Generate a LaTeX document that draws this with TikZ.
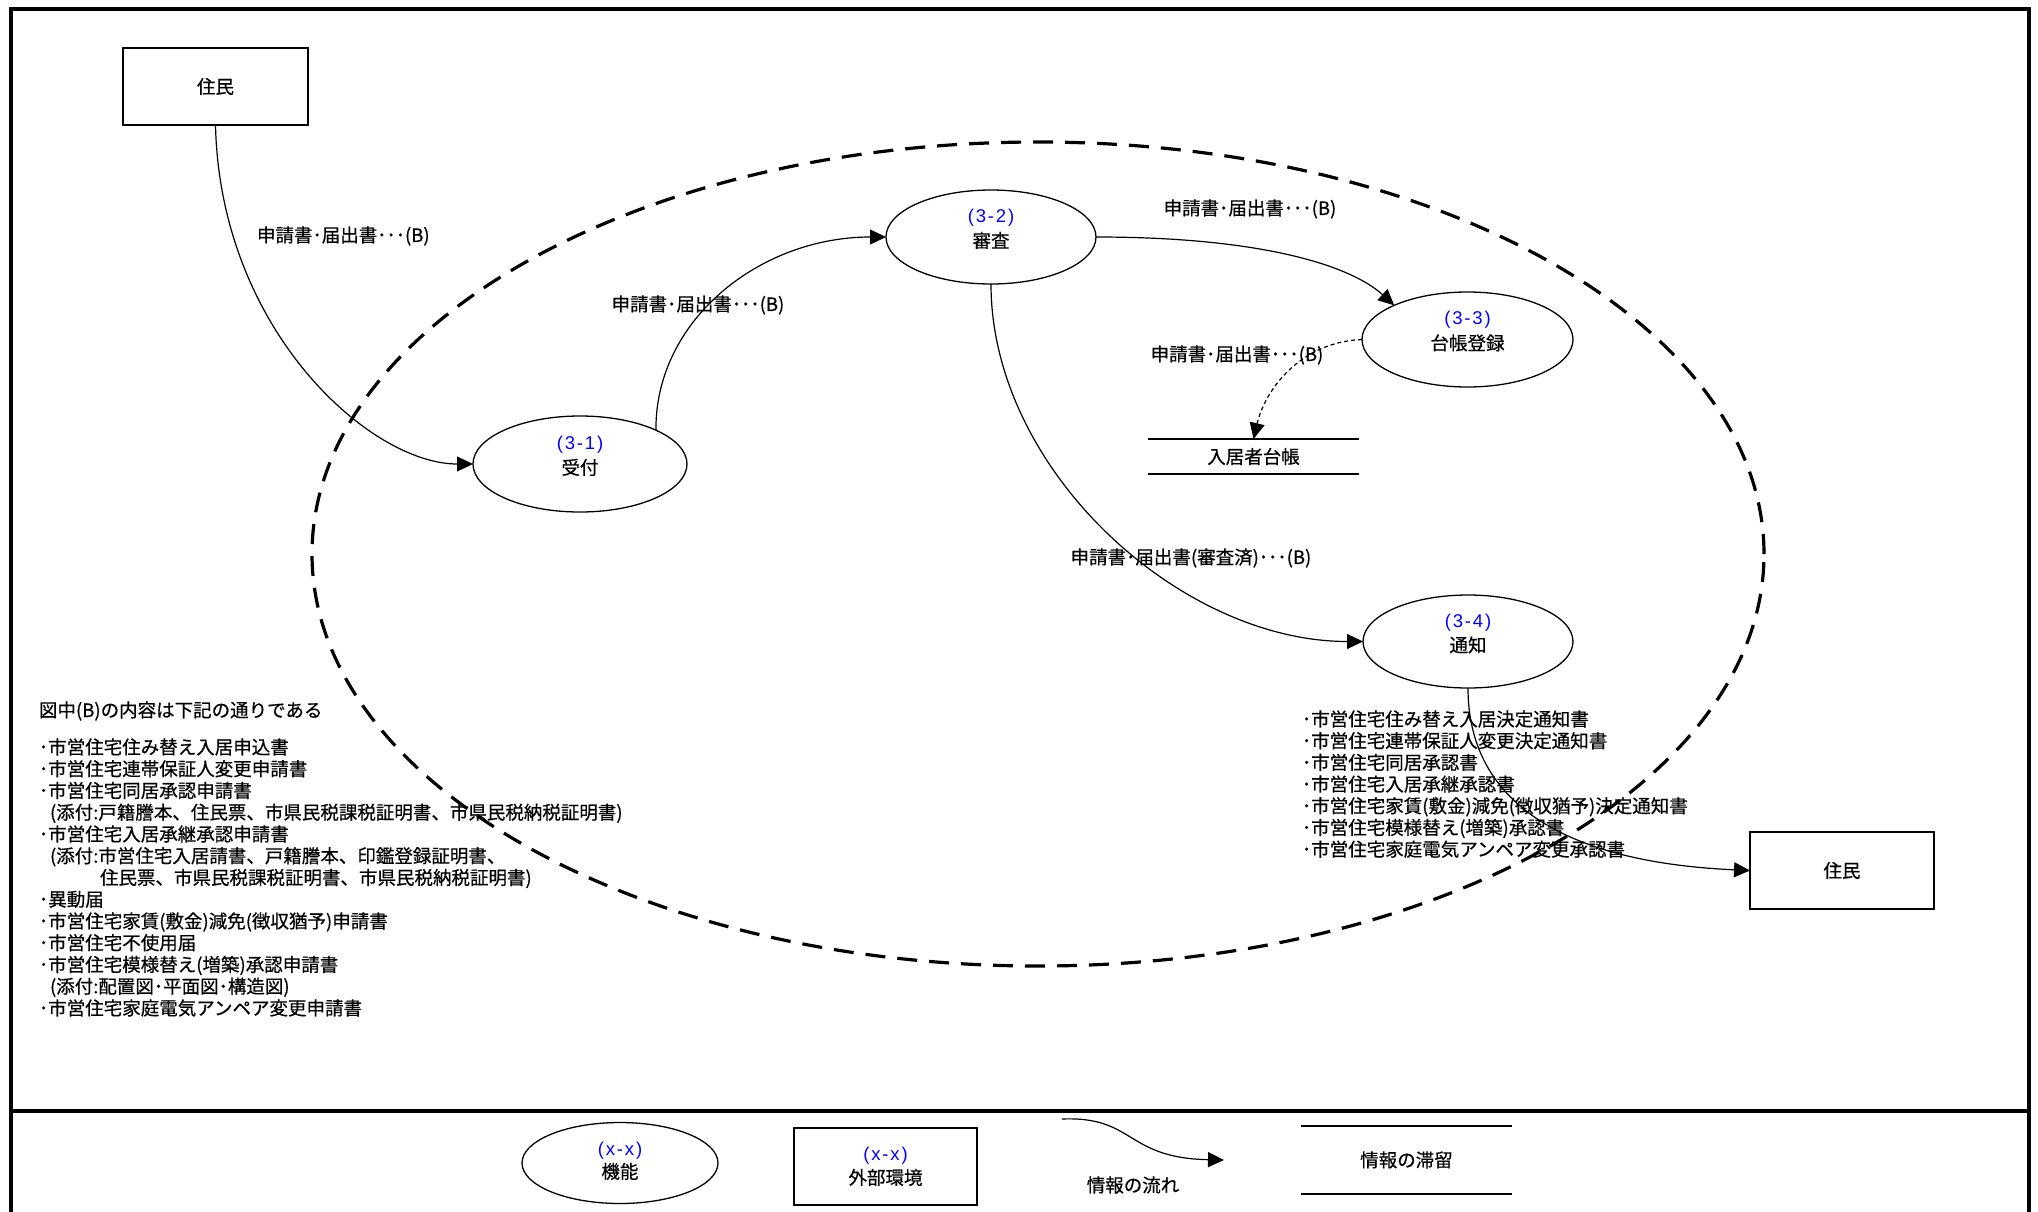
\documentclass[tikz,border=0pt]{standalone}
\usepackage{fontspec}
\setmainfont{Noto Sans CJK JP}[FakeBold=0.5]
\newfontfamily\latinf{Liberation Sans}[LetterSpace=10]
\usetikzlibrary{arrows.meta,shapes.geometric}
\begin{document}
\begin{tikzpicture}[x=1pt,y=-1pt,
  every node/.style={inner sep=0pt,outer sep=0pt,font=\fontsize{18.5}{24}\selectfont},
  proc/.style={draw,ellipse,line width=1.3pt,minimum width=210pt,minimum height=94pt},
  ext/.style={draw,rectangle,line width=1.4pt,minimum width=185pt,minimum height=77pt,align=center},
  ptext/.style={align=center,yshift=8pt,font=\fontsize{18.5}{25}\selectfont},
  flow/.style={line width=1.2pt,-{Triangle[length=16pt,width=15pt]}},
  dflow/.style={flow,dash pattern=on 4pt off 3pt},
  lst/.style={anchor=base west},
  frameline/.style={line width=3.5pt},
  storeline/.style={line width=1.2pt}
]
\useasboundingbox (0,0) rectangle (2038,1211);
\draw[frameline] (11,1225) -- (11,9) -- (2029,9) -- (2029,1225);
\draw[frameline] (11,1111) -- (2029,1111);

% boundary
\draw[line width=3.2pt,dash pattern=on 20pt off 12pt] (1038,554) ellipse [x radius=726pt,y radius=412pt];

% external entities
\node[ext] (r1) at (215.5,86.5) {住民};
\node[ext,minimum width=184pt] (r2) at (1842,870.5) {住民};

% processes
\node[proc,minimum width=214pt,minimum height=96pt] (n31) at (580,464) {};
\node[ptext] (t31) at (n31) {\textcolor{blue}{\latinf (3-1)}\\受付};
\node[proc] (n32) at (991,237) {};
\node[ptext] (t32) at (n32) {\textcolor{blue}{\latinf (3-2)}\\審査};
\node[proc,minimum width=211pt,minimum height=95pt] (n33) at (1467.5,339.5) {};
\node[ptext] (t33) at (n33) {\textcolor{blue}{\latinf (3-3)}\\台帳登録};
\node[proc,minimum height=93pt] (n34) at (1468,641.5) {};
\node[ptext] (t34) at (n34) {\textcolor{blue}{\latinf (3-4)}\\通知};

% store
\node[minimum width=211pt,minimum height=35pt] (st) at (1253.5,456.5) {入居者台帳};
\draw[storeline] (st.north west) -- (st.north east) (st.south west) -- (st.south east);

% flows
\draw[flow] (r1.south) .. controls (220,330) and (370,464) .. (n31.west);
\draw[flow] (n31.24) .. controls (655,320) and (760,237) .. (n32.west);
\draw[flow] (n32.east) .. controls (1260,237) and (1350,265) .. (n33.155);
\draw[dflow] (n33.west) .. controls (1300,342) and (1265,390) .. (st.north);
\draw[flow] (n32.south) .. controls (991,470) and (1180,641.5) .. (n34.west);
\draw[flow] (n34.south) .. controls (1468,800) and (1560,862) .. (r2.west);

% flow labels
\node[anchor=west] (l1) at (257,236) {申請書･届出書･･･(B)};
\node (l2) at (698,305) {申請書･届出書･･･(B)};
\node (l3) at (1250,209) {申請書･届出書･･･(B)};
\node (l4) at (1237,355) {申請書･届出書･･･(B)};
\node (l5) at (1191,558) {申請書･届出書(審査済)･･･(B)};

% left notes
\node[lst] (hd) at (39,717) {図中(B)の内容は下記の通りである};
\foreach \x/\t [count=\i] in {39/･市営住宅住み替え入居申込書,39/･市営住宅連帯保証人変更申請書,39/･市営住宅同居承認申請書,50/(添付:戸籍謄本、住民票、市県民税課税証明書、市県民税納税証明書),39/･市営住宅入居承継承認申請書,50/(添付:市営住宅入居請書、戸籍謄本、印鑑登録証明書、,100/住民票、市県民税課税証明書、市県民税納税証明書),39/･異動届,39/･市営住宅家賃(敷金)減免(徴収猶予)申請書,39/･市営住宅不使用届,39/･市営住宅模様替え(増築)承認申請書,50/(添付:配置図･平面図･構造図),39/･市営住宅家庭電気アンペア変更申請書}
  \node[lst] (ll\i) at (\x,{754+21.75*(\i-1)}) {\t};

% right notes
\foreach \t [count=\i] in {･市営住宅住み替え入居決定通知書,･市営住宅連帯保証人変更決定通知書,･市営住宅同居承認書,･市営住宅入居承継承認書,･市営住宅家賃(敷金)減免(徴収猶予)決定通知書,･市営住宅模様替え(増築)承認書,･市営住宅家庭電気アンペア変更承認書}
  \node[lst] (rl\i) at (1302,{726+21.7*(\i-1)}) {\t};

% legend
\node[draw,ellipse,line width=1.3pt,minimum width=196pt,minimum height=81pt] (le) at (620,1163) {};
\node[align=center,font=\fontsize{18.5}{23}\selectfont,yshift=2pt] (lt) at (le) {\textcolor{blue}{\latinf (x-x)}\\機能};
\node[ext,minimum width=183pt,font=\fontsize{18.5}{24}\selectfont] (lr) at (885.5,1166.5) {\textcolor{blue}{\latinf (x-x)}\\外部環境};
\coordinate (fa) at (1062,1119);
\coordinate (fb) at (1224,1160);
\draw[flow] (fa) .. controls (1135,1116) and (1125,1158) .. (fb);
\node (lf) at (1133,1185) {情報の流れ};
\node[minimum width=211pt,minimum height=68pt] (ls) at (1406.5,1160) {情報の滞留};
\draw[storeline] (ls.north west) -- (ls.north east) (ls.south west) -- (ls.south east);
\end{tikzpicture}
\end{document}
